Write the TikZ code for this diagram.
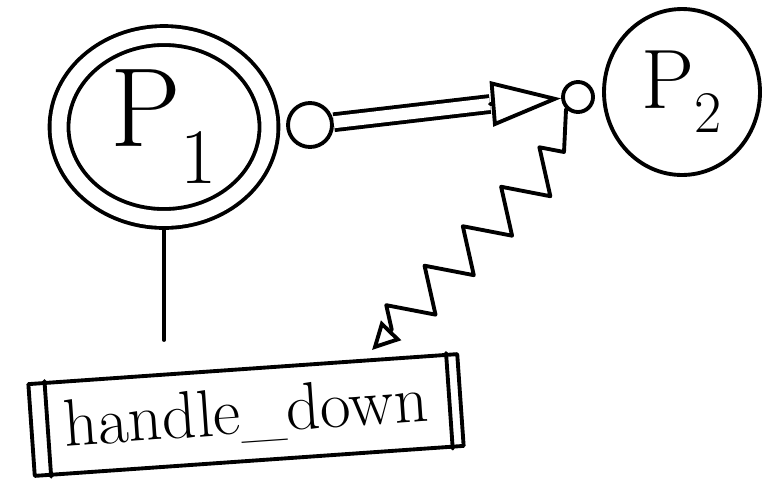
\documentclass[tikz,border=0pt]{standalone}
\usetikzlibrary{arrows.meta,shapes.geometric,decorations.pathmorphing,calc}

\begin{document}
\begin{tikzpicture}[x=0.02cm,y=-0.02cm,line width=2.2pt,line cap=round,line join=round,
  proc/.style={ellipse,draw,inner sep=0pt},
  port/.style={circle,draw,inner sep=0pt},
  zz/.style={decoration={zigzag,segment length=1.1cm,amplitude=-0.42cm,post length=0.45cm}}]
\useasboundingbox (0,0) rectangle (776,481);
% processes
\node[proc,double,double distance=0.3cm,outer sep=0.24cm,minimum width=4.2cm,minimum height=3.66cm] (P1) at (164,127) {\fontsize{64}{70}\selectfont P\textsubscript{1}};
\node[proc,minimum width=3.12cm,minimum height=3.32cm] (P2) at (682,92) {\fontsize{48}{52}\selectfont P\textsubscript{2}};
\node[port,minimum size=0.88cm] (c1) at (310,125) {};
\node[port,minimum size=0.6cm] (c2) at (578,97) {};
% handler box
\node[draw,rotate=4,minimum width=8.6cm,minimum height=1.84cm] (hd) at (246,415) {\fontsize{38}{44}\selectfont handle\_down};
\draw ($(hd.north west)!0.042!(hd.north east)$) -- ($(hd.south west)!0.042!(hd.south east)$);
\draw ($(hd.north east)!0.03!(hd.north west)$) -- ($(hd.south east)!0.03!(hd.south west)$);
% connectors
\coordinate (bar) at (490,104);
\coordinate (k1) at (564,152);
\coordinate (hit) at (372,350);
\coordinate (d) at (164,340);
\draw[double,double distance=0.24cm,line cap=butt] (c1) -- (bar);
\draw[-{Triangle[open,length=1.4cm,width=0.9cm]}] (bar) -- (c2);
\draw[-{Triangle[open,length=0.55cm,width=0.55cm]}] (c2.south west) -- (k1) decorate[zz]{-- (hit)};
\draw (P1) -- (d);
\end{tikzpicture}
\end{document}
